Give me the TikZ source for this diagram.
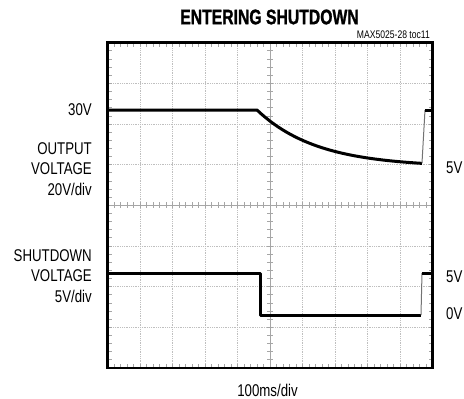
\documentclass[tikz,border=0pt]{standalone}
\usepackage{fontspec}
\setmainfont{Liberation Sans}[FakeStretch=0.78]
\newfontfamily\titlefont{Liberation Sans Bold}[FakeStretch=0.75,FakeBold=1.2]
\begin{document}
\begin{tikzpicture}[x=1pt,y=-1pt,
    trace/.style={line width=3pt, line join=round},
    riser/.style={black!55, line width=1pt},
    gridline/.style={black!25, densely dotted, line width=0.8pt},
    tick/.style={black!35, line width=0.7pt},
    lbl/.style={font=\fontsize{17}{20.6}\selectfont, inner sep=0pt}]

    \useasboundingbox (0,0) rectangle (464,399);
    \coordinate (nw) at (107.5,42.7);
    \coordinate (se) at (432.5,368);

    % grid
    \foreach \i in {1,...,9} \draw[gridline] (107.5+32.5*\i,42.7) -- (107.5+32.5*\i,368);
    \foreach \j in {1,...,7} \draw[gridline] (107.5,42.7+40.66*\j) -- (432.5,42.7+40.66*\j);
    \draw[tick] (270,42.7) -- (270,368);
    \draw[tick] (107.5,205.3) -- (432.5,205.3);
    \foreach \k in {1,...,39} {
        \draw[tick] (267,42.7+8.13*\k) -- (273,42.7+8.13*\k);
        \draw[tick] (107.5,42.7+8.13*\k) -- ++(4,0);
        \draw[tick] (432.5,42.7+8.13*\k) -- ++(-4,0);
    }
    \foreach \k in {1,...,49} {
        \draw[tick] (107.5+6.5*\k,202.3) -- (107.5+6.5*\k,208.3);
        \draw[tick] (107.5+6.5*\k,42.7) -- ++(0,4);
        \draw[tick] (107.5+6.5*\k,368) -- ++(0,-4);
    }

    % output voltage
    \draw[trace] (107.5,110) -- (257,110) -- plot[domain=257:422,samples=40] (\x,{110+57*(1-exp(-(\x-257)/60))});
    \draw[riser] (422,163) -- (425,110);
    \draw[trace] (425,110) -- (432.5,110);

    % shutdown voltage
    \draw[trace] (107.5,273) -- (260,273) -- (260,315) -- (421,315);
    \draw[riser] (421,315) -- (422,273);
    \draw[trace] (422,273) -- (432.5,273);

    \draw[line width=2.6pt] (nw) rectangle (se);

    % texts
    \node[inner sep=0pt, font=\titlefont\fontsize{21}{22}\selectfont] (title) at (269.5,17) {ENTERING SHUTDOWN};
    \node[inner sep=0pt, anchor=east, font=\fontsize{11}{12}\selectfont] (tocref) at (430,35) {MAX5025-28 toc11};
    \node[lbl, anchor=east] (lbl30) at (92,110) {30V};
    \node[lbl, anchor=east, align=right] (lblout) at (92,169) {OUTPUT\\VOLTAGE\\20V/div};
    \node[lbl, anchor=east, align=right] (lblsd) at (92,276) {SHUTDOWN\\VOLTAGE\\5V/div};
    \node[lbl, anchor=west] (lbl5a) at (446,168) {5V};
    \node[lbl, anchor=west] (lbl5b) at (446,277) {5V};
    \node[lbl, anchor=west] (lbl0) at (446,314) {0V};
    \node[lbl] (timebase) at (267.5,390) {100ms/div};
\end{tikzpicture}
\end{document}
